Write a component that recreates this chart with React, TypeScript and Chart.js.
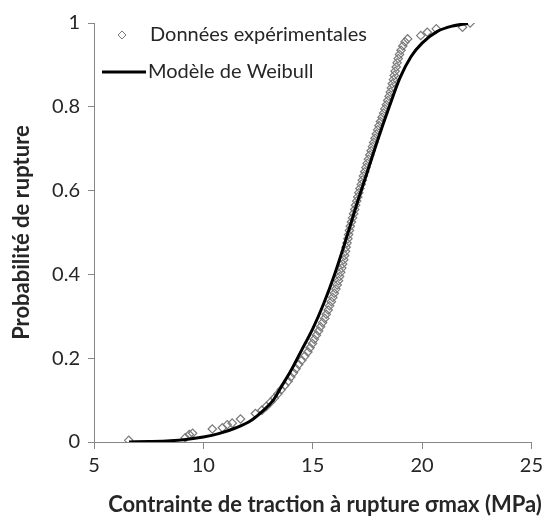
import { useEffect, useRef } from "react";
import { Chart, registerables } from "chart.js";

Chart.register(...registerables);

const FONT = "Lato, 'Open Sans', sans-serif";

// Experimental data (stress in MPa, rupture probability)
const expSigma = [
  6.59, 9.17, 9.36, 9.51, 10.41, 10.87, 11.09, 11.32, 11.7, 12.38, 12.68,
  12.88, 13.07, 13.25, 13.41, 13.56, 13.72, 13.88, 14.0, 14.12, 14.24,
  14.36, 14.5, 14.64, 14.78, 14.88, 14.99, 15.07, 15.17, 15.27, 15.36,
  15.45, 15.55, 15.62, 15.71, 15.77, 15.85, 15.92, 15.99, 16.06, 16.12,
  16.18, 16.23, 16.28, 16.33, 16.37, 16.42, 16.46, 16.5, 16.53, 16.57,
  16.61, 16.64, 16.68, 16.72, 16.77, 16.82, 16.87, 16.92, 16.96, 17.01,
  17.06, 17.11, 17.16, 17.22, 17.27, 17.32, 17.38, 17.43, 17.49, 17.55,
  17.61, 17.67, 17.73, 17.79, 17.85, 17.91, 17.97, 18.03, 18.1, 18.17,
  18.24, 18.3, 18.37, 18.43, 18.49, 18.55, 18.6, 18.64, 18.69, 18.73,
  18.77, 18.82, 18.86, 18.91, 18.97, 19.04, 19.12, 19.22, 19.34,
  19.94, 20.24, 20.65, 21.85, 22.2,
];
const expProb = [
  0.004, 0.01, 0.018, 0.021, 0.031, 0.034, 0.041, 0.045, 0.055, 0.068, 0.076,
  0.085, 0.095, 0.105, 0.115, 0.125, 0.135, 0.145, 0.155, 0.165, 0.175,
  0.185, 0.195, 0.205, 0.215, 0.225, 0.235, 0.245, 0.255, 0.265, 0.275,
  0.285, 0.295, 0.305, 0.315, 0.325, 0.335, 0.345, 0.355, 0.365, 0.375,
  0.385, 0.395, 0.405, 0.415, 0.425, 0.435, 0.445, 0.455, 0.465, 0.475,
  0.485, 0.495, 0.505, 0.515, 0.525, 0.535, 0.545, 0.555, 0.565, 0.575,
  0.585, 0.595, 0.605, 0.615, 0.625, 0.635, 0.645, 0.655, 0.665, 0.675,
  0.685, 0.695, 0.705, 0.715, 0.725, 0.735, 0.745, 0.755, 0.765, 0.775,
  0.785, 0.795, 0.805, 0.815, 0.825, 0.835, 0.845, 0.855, 0.865, 0.875,
  0.885, 0.895, 0.905, 0.915, 0.925, 0.935, 0.945, 0.955, 0.962,
  0.97, 0.978, 0.986, 0.99, 1.0,
];

// Weibull model curve
const weibullSigma = [
  6.6, 7.5, 8.5, 9.2, 10.0, 10.7, 11.5, 12.2, 12.76, 13.2, 13.6, 14.0, 14.5,
  15.0, 15.5, 16.0, 16.5, 17.0, 17.5, 18.0, 18.5, 19.0, 19.5, 20.0, 20.7,
  21.4, 22.1,
];
const weibullProb = [
  0.0, 0.001, 0.003, 0.006, 0.012, 0.02, 0.034, 0.052, 0.076, 0.1, 0.135,
  0.17, 0.22, 0.27, 0.33, 0.4, 0.48, 0.565, 0.645, 0.725, 0.8, 0.87, 0.92,
  0.952, 0.98, 0.993, 0.999,
];

const xMin = 5;
const xMax = 25;
const xStep = 5;
const yMin = 0;
const yMax = 1;
const yStep = 0.2;

const seriesLabels = ["Données expérimentales", "Modèle de Weibull"];
const xTitle = "Contrainte de traction à rupture σmax (MPa)";
const yTitle = "Probabilité de rupture";

const TEXT = "#262626";
const AXIS = "#868686";
const POINT = "#7a7a7a";

const overlay = {
  id: "overlay",
  afterDraw(chart: any) {
    const ctx = chart.ctx as CanvasRenderingContext2D;
    const ca = chart.chartArea;
    ctx.save();
    ctx.fillStyle = TEXT;
    ctx.font = `bold 22px ${FONT}`;
    ctx.textAlign = "center";
    ctx.textBaseline = "middle";
    // x-axis title
    ctx.fillText(xTitle, ca.left + 231, ca.bottom + 63);
    // y-axis title
    ctx.save();
    ctx.translate(22, (ca.top + ca.bottom) / 2);
    ctx.rotate(-Math.PI / 2);
    ctx.fillText(yTitle, 0, 0);
    ctx.restore();

    // legend
    ctx.font = `20px ${FONT}`;
    ctx.textAlign = "left";
    const lx = ca.left;
    const y1 = ca.top + 12;
    const y2 = ca.top + 49;
    ctx.strokeStyle = POINT;
    ctx.lineWidth = 1;
    const cx = lx + 28;
    const r = 4;
    ctx.beginPath();
    ctx.moveTo(cx, y1 - r);
    ctx.lineTo(cx + r, y1);
    ctx.lineTo(cx, y1 + r);
    ctx.lineTo(cx - r, y1);
    ctx.closePath();
    ctx.stroke();
    ctx.fillText(seriesLabels[0], lx + 56, y1);
    ctx.strokeStyle = "#000000";
    ctx.lineWidth = 3;
    ctx.beginPath();
    ctx.moveTo(lx + 8, y2);
    ctx.lineTo(lx + 52, y2);
    ctx.stroke();
    ctx.fillText(seriesLabels[1], lx + 54, y2);
    ctx.restore();
  },
};

export default function App() {
  const ref = useRef<HTMLCanvasElement>(null);
  useEffect(() => {
    document.body.style.margin = "0";
    const canvas = ref.current!;
    const expData = expSigma.map((x, i) => ({ x, y: expProb[i] }));
    const wData = weibullSigma.map((x, i) => ({ x, y: weibullProb[i] }));
    const chart = new Chart(canvas, {
      type: "scatter",
      data: {
        datasets: [
          {
            label: seriesLabels[1],
            data: wData,
            showLine: true,
            borderColor: "#000000",
            borderWidth: 3,
            pointRadius: 0,
            cubicInterpolationMode: "monotone",
            order: 0,
          } as any,
          {
            label: seriesLabels[0],
            data: expData,
            pointStyle: "rectRot",
            pointRadius: 4.2,
            borderColor: POINT,
            backgroundColor: "rgba(255,255,255,0)",
            borderWidth: 1.2,
            order: 1,
          } as any,
        ],
      },
      options: {
        responsive: false,
        animation: false,
        layout: { padding: { top: 23, right: 13, left: 0, bottom: 0 } },
        plugins: {
          legend: { display: false },
          tooltip: { enabled: false },
        },
        scales: {
          x: {
            type: "linear",
            min: xMin,
            max: xMax,
            ticks: {
              stepSize: xStep,
              color: TEXT,
              font: { family: FONT, size: 20 },
              padding: 5,
            },
            grid: {
              drawOnChartArea: false,
              drawTicks: true,
              tickLength: 7,
              color: AXIS,
            },
            border: { color: AXIS, width: 1 },
            afterFit(scale: any) {
              scale.height = 78;
            },
          },
          y: {
            type: "linear",
            min: yMin,
            max: yMax,
            ticks: {
              stepSize: yStep,
              color: TEXT,
              font: { family: FONT, size: 20 },
              padding: 8,
              callback: (v: any) => String(Math.round(Number(v) * 10) / 10),
            },
            grid: {
              drawOnChartArea: false,
              drawTicks: true,
              tickLength: 6,
              color: AXIS,
            },
            border: { color: AXIS, width: 1 },
            afterFit(scale: any) {
              scale.width = 94;
            },
          },
        },
      },
      plugins: [overlay],
    });
    return () => chart.destroy();
  }, []);
  return (
    <div style={{ width: 548, height: 520 }}>
      <canvas ref={ref} width={548} height={520} style={{ display: "block" }} />
    </div>
  );
}
